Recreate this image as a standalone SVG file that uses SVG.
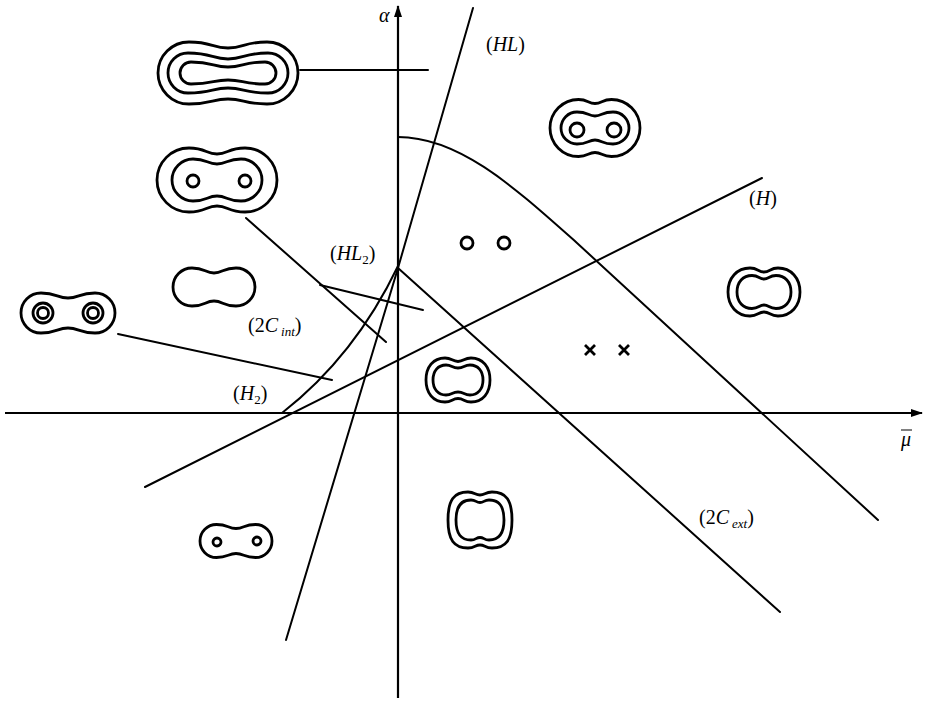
<svg xmlns="http://www.w3.org/2000/svg" width="931" height="701" viewBox="0 0 931 701">
<style>
.ln{fill:none;stroke:#000;stroke-width:2;stroke-linecap:round}
.ax{fill:none;stroke:#000;stroke-width:2.2}
.ct{fill:none;stroke:#000;stroke-width:2.8}
.lb{font-family:"Liberation Serif","Times New Roman",serif;font-size:20px;fill:#000}
.it{font-style:italic}
.sb{font-size:13px}
</style>
<defs>
<marker id="arr" viewBox="0 0 12 10" refX="11" refY="5" markerWidth="12" markerHeight="10" markerUnits="userSpaceOnUse" orient="auto">
<path d="M0,1 L12,5 L0,9 Z" fill="#000"/>
</marker>
</defs>
<rect width="931" height="701" fill="#fff"/>

<g id="axes">
<line class="ax" x1="398" y1="698" x2="398" y2="6" marker-end="url(#arr)"/>
<line class="ax" x1="5" y1="413" x2="922" y2="413" marker-end="url(#arr)"/>
</g>

<g id="connectors">
<path class="ln" d="M286,640 L398,268 L473,8"/>
<path class="ln" d="M282,413 Q355,356 398,266"/>
<line class="ln" x1="145" y1="487" x2="762" y2="178"/>
<line class="ln" x1="398" y1="268" x2="780" y2="612"/>
<path class="ln" d="M398,137 C460,137 515,188 577,243 L878,520"/>
<line class="ln" x1="300" y1="70" x2="428" y2="70"/>
<line class="ln" x1="246" y1="218" x2="386" y2="342"/>
<line class="ln" x1="320" y1="285" x2="423" y2="310"/>
<line class="ln" x1="118" y1="334" x2="332" y2="380"/>
</g>

<g id="shape-top-left" class="ct" transform="translate(228,73)">
<path d="M-39,-31 C-16,-31 -16,-25 0,-25 C16,-25 16,-31 39,-31 A31,31 0 0 1 39,31 C16,31 16,26 0,26 C-16,26 -16,31 -39,31 A31,31 0 0 1 -39,-31 Z"/>
<path d="M-40,-20 C-16,-20 -16,-14 0,-14 C16,-14 16,-20 40,-20 A20,20 0 0 1 40,20 C16,20 16,15 0,15 C-16,15 -16,20 -40,20 A20,20 0 0 1 -40,-20 Z"/>
<path d="M-37,-11 C-15,-11 -15,-6 0,-6 C15,-6 15,-11 37,-11 A11,11 0 0 1 37,11 C15,11 15,7 0,7 C-15,7 -15,11 -37,11 A11,11 0 0 1 -37,-11 Z"/>
</g>

<g id="shape-two-holes-left" class="ct" transform="translate(217,180)">
<path d="M-28,-32 C-11,-32 -11,-26 0,-26 C11,-26 11,-32 28,-32 A32,32 0 0 1 28,32 C11,32 11,26 0,26 C-11,26 -11,32 -28,32 A32,32 0 0 1 -28,-32 Z"/>
<path d="M-24,-21 C-10,-21 -10,-16 0,-16 C10,-16 10,-21 24,-21 A21,21 0 0 1 24,21 C10,21 10,16 0,16 C-10,16 -10,21 -24,21 A21,21 0 0 1 -24,-21 Z"/>
<circle cx="-24" cy="1" r="6"/>
<circle cx="28" cy="1" r="6"/>
</g>

<g id="shape-two-holes-right" class="ct" transform="translate(595,128)">
<path d="M-16.5,-28.5 C-7,-28.5 -7,-24.5 0,-24.5 C7,-24.5 7,-28.5 16.5,-28.5 A28.5,28.5 0 0 1 16.5,28.5 C7,28.5 7,24.5 0,24.5 C-7,24.5 -7,28.5 -16.5,28.5 A28.5,28.5 0 0 1 -16.5,-28.5 Z"/>
<path d="M-18,-16 C-7,-16 -7,-12 0,-12 C7,-12 7,-16 18,-16 A16,16 0 0 1 18,16 C7,16 7,12 0,12 C-7,12 -7,16 -18,16 A16,16 0 0 1 -18,-16 Z"/>
<circle cx="-18" cy="2" r="7"/>
<circle cx="19" cy="2" r="7"/>
</g>

<g id="shape-double-rings" class="ct" transform="translate(68,313)">
<path d="M-27,-20 C-11,-20 -11,-15 0,-15 C11,-15 11,-20 27,-20 A20,20 0 0 1 27,20 C11,20 11,15 0,15 C-11,15 -11,20 -27,20 A20,20 0 0 1 -27,-20 Z"/>
<circle cx="-25" cy="0" r="10"/>
<circle cx="-25" cy="0" r="5.5"/>
<circle cx="25" cy="0" r="10"/>
<circle cx="25" cy="0" r="5.5"/>
</g>

<g id="shape-single" class="ct" transform="translate(214,287)">
<path d="M-22,-19 C-9,-19 -9,-14 0,-14 C9,-14 9,-19 22,-19 A19,19 0 0 1 22,19 C9,19 9,14 0,14 C-9,14 -9,19 -22,19 A19,19 0 0 1 -22,-19 Z"/>
</g>

<g id="two-circles" class="ct">
<circle cx="467" cy="243" r="6"/>
<circle cx="504" cy="243" r="6"/>
</g>

<g id="shape-double-center" class="ct" transform="translate(458,380)">
<path d="M-13,-22 C-6,-22 -6,-18.5 0,-18.5 C6,-18.5 6,-22 13,-22 C25,-22 32,-13 32,0 C32,13 25,22 13,22 C6,22 6,18.5 0,18.5 C-6,18.5 -6,22 -13,22 C-25,22 -32,13 -32,0 C-32,-13 -25,-22 -13,-22 Z"/>
<path d="M-12,-15 C-6,-15 -6,-12 0,-12 C6,-12 6,-15 12,-15 C20,-15 25,-9 25,0 C25,9 20,15 12,15 C6,15 6,12 0,12 C-6,12 -6,15 -12,15 C-20,15 -25,9 -25,0 C-25,-9 -20,-15 -12,-15 Z"/>
</g>

<g id="shape-double-bottom" class="ct" transform="translate(480,520)">
<path d="M-12,-28 C-5,-28 -5,-25 0,-25 C5,-25 5,-28 12,-28 C26,-28 32,-20 32,0 C32,20 26,28 12,28 C5,28 5,25 0,25 C-5,25 -5,28 -12,28 C-26,28 -32,20 -32,0 C-32,-20 -26,-28 -12,-28 Z"/>
<path d="M-9,-20 C-4,-20 -4,-17.5 0,-17.5 C4,-17.5 4,-20 9,-20 C19,-20 24,-14 24,0 C24,14 19,20 9,20 C4,20 4,17.5 0,17.5 C-4,17.5 -4,20 -9,20 C-19,20 -24,14 -24,0 C-24,-14 -19,-20 -9,-20 Z"/>
</g>

<g id="shape-small-holes" class="ct" transform="translate(236,541)">
<path d="M-19.5,-16.5 C-8,-16.5 -8,-12.5 0,-12.5 C8,-12.5 8,-16.5 19.5,-16.5 A16.5,16.5 0 0 1 19.5,16.5 C8,16.5 8,12.5 0,12.5 C-8,12.5 -8,16.5 -19.5,16.5 A16.5,16.5 0 0 1 -19.5,-16.5 Z"/>
<circle cx="-19" cy="1" r="4"/>
<circle cx="21" cy="0" r="4"/>
</g>

<g id="shape-double-right" class="ct" transform="translate(764,292)">
<path d="M-14,-24 C-6,-24 -6,-20 0,-20 C6,-20 6,-24 14,-24 C27,-24 36,-14 36,0 C36,14 27,24 14,24 C6,24 6,20 0,20 C-6,20 -6,24 -14,24 C-27,24 -36,14 -36,0 C-36,-14 -27,-24 -14,-24 Z"/>
<path d="M-12,-16.5 C-5,-16.5 -5,-13 0,-13 C5,-13 5,-16.5 12,-16.5 C21,-16.5 27,-10 27,0 C27,10 21,16.5 12,16.5 C5,16.5 5,13 0,13 C-5,13 -5,16.5 -12,16.5 C-21,16.5 -27,10 -27,0 C-27,-10 -21,-16.5 -12,-16.5 Z"/>
</g>

<g id="crosses" class="ct">
<path d="M585,345 L595,355 M595,345 L585,355"/>
<path d="M619,345 L629,355 M629,345 L619,355"/>
</g>

<g id="labels" class="lb">
<text x="379" y="22" class="it">α</text>
<text x="901" y="446" class="it">μ</text>
<line x1="901" y1="430" x2="912" y2="430" stroke="#000" stroke-width="1"/>
<text x="486" y="51">(<tspan class="it">HL</tspan>)</text>
<text x="749" y="205">(<tspan class="it">H</tspan>)</text>
<text x="330" y="260">(<tspan class="it">HL</tspan><tspan class="sb" dy="4">2</tspan><tspan dy="-4">)</tspan></text>
<text x="248" y="332">(2<tspan class="it">C</tspan><tspan class="sb it" dx="3" dy="4">int</tspan><tspan dy="-4">)</tspan></text>
<text x="233" y="400">(<tspan class="it">H</tspan><tspan class="sb" dy="4">2</tspan><tspan dy="-4">)</tspan></text>
<text x="699" y="524">(2<tspan class="it">C</tspan><tspan class="sb it" dx="3" dy="4">ext</tspan><tspan dy="-4">)</tspan></text>
</g>
</svg>
